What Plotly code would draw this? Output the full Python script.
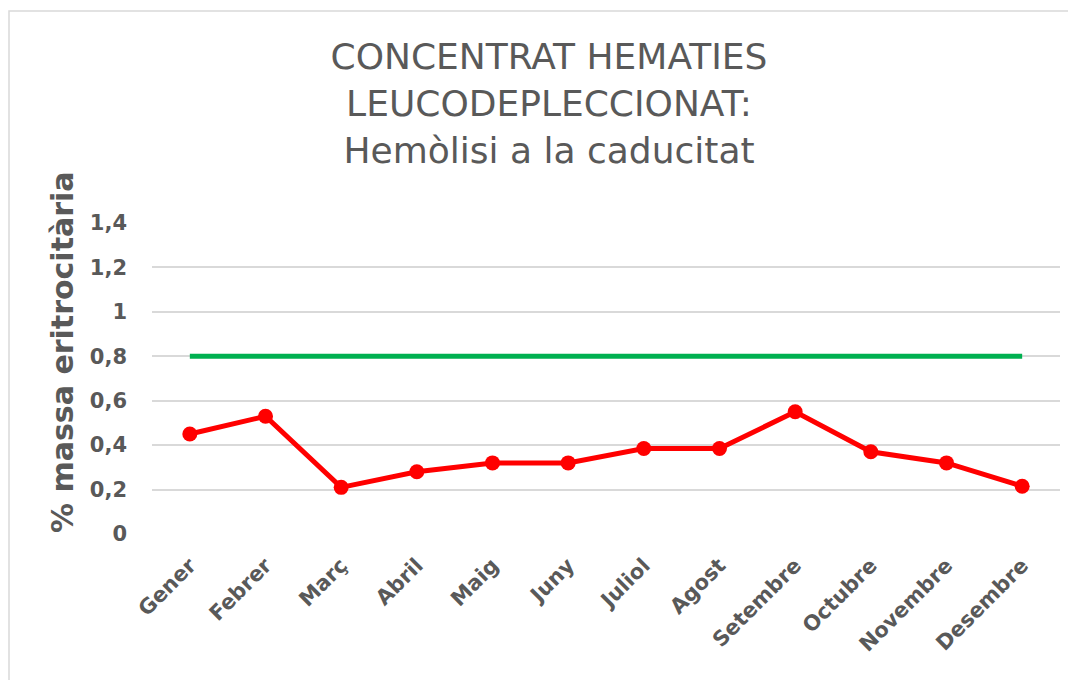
import plotly.graph_objects as go

months = ["Gener", "Febrer", "Març", "Abril", "Maig", "Juny", "Juliol",
          "Agost", "Setembre", "Octubre", "Novembre", "Desembre"]
hemolisi = [0.45, 0.53, 0.21, 0.28, 0.32, 0.32, 0.385, 0.385, 0.55, 0.37, 0.32, 0.215]
limit = [0.8] * 12
y_ticks = [0, 0.2, 0.4, 0.6, 0.8, 1, 1.2, 1.4]
y_tick_labels = ["0", "0,2", "0,4", "0,6", "0,8", "1", "1,2", "1,4"]

# page body has an 8px margin, so the figure is 8px smaller than the window
W, H = 1068, 672
L, R, T, B = 144, 16, 215, 146
pw, ph = W - L - R, H - T - B

font = "DejaVu Sans, Verdana, sans-serif"
grey = "#595959"

fig = go.Figure()
fig.add_trace(go.Scatter(x=months, y=limit, mode="lines",
                         line=dict(color="#00b050", width=5), hoverinfo="skip"))
fig.add_trace(go.Scatter(x=months, y=hemolisi, mode="lines+markers",
                         line=dict(color="#ff0000", width=5),
                         marker=dict(color="#ff0000", size=15)))

fig.update_layout(
    width=W, height=H, showlegend=False,
    paper_bgcolor="white", plot_bgcolor="white",
    margin=dict(l=L, r=R, t=T, b=B, autoexpand=False),
    title=dict(text="CONCENTRAT HEMATIES<br>LEUCODEPLECCIONAT:<br>Hemòlisi a la caducitat",
               x=541 / W, xanchor="center", xref="container",
               y=1 - 61 / H, yanchor="top", yref="container",
               font=dict(family=font, size=36, color=grey)),
    font=dict(family=font, color=grey),
)
fig.update_xaxes(range=[-0.5, len(months) - 0.5],
                 showgrid=False, showline=False, zeroline=False, ticks="",
                 tickangle=-45, ticklabelstandoff=14,
                 tickfont=dict(family=font, size=21, color=grey, weight="bold"))
fig.update_yaxes(range=[0, 1.4], tickvals=y_ticks, ticktext=y_tick_labels,
                 showgrid=True, gridcolor="#d9d9d9", gridwidth=1.5, zeroline=False,
                 showline=False, ticks="", ticklabelstandoff=24,
                 tickfont=dict(family=font, size=21, color=grey, weight="bold"))

fig.add_annotation(text="% massa eritrocitària", textangle=-90, showarrow=False,
                   xref="paper", yref="paper", x=(54 - L) / pw, y=(H - B - 344) / ph,
                   xanchor="center", yanchor="middle",
                   font=dict(family=font, size=30, color=grey, weight="bold"))

fig.add_shape(type="rect", xref="paper", yref="paper", layer="below",
              x0=(1 - L) / pw, x1=(W + 20 - L) / pw,
              y0=(H - B - (H + 20)) / ph, y1=(H - B - 3) / ph,
              line=dict(color="#d9d9d9", width=1.5), fillcolor="rgba(0,0,0,0)")

fig.write_html("out.html")
